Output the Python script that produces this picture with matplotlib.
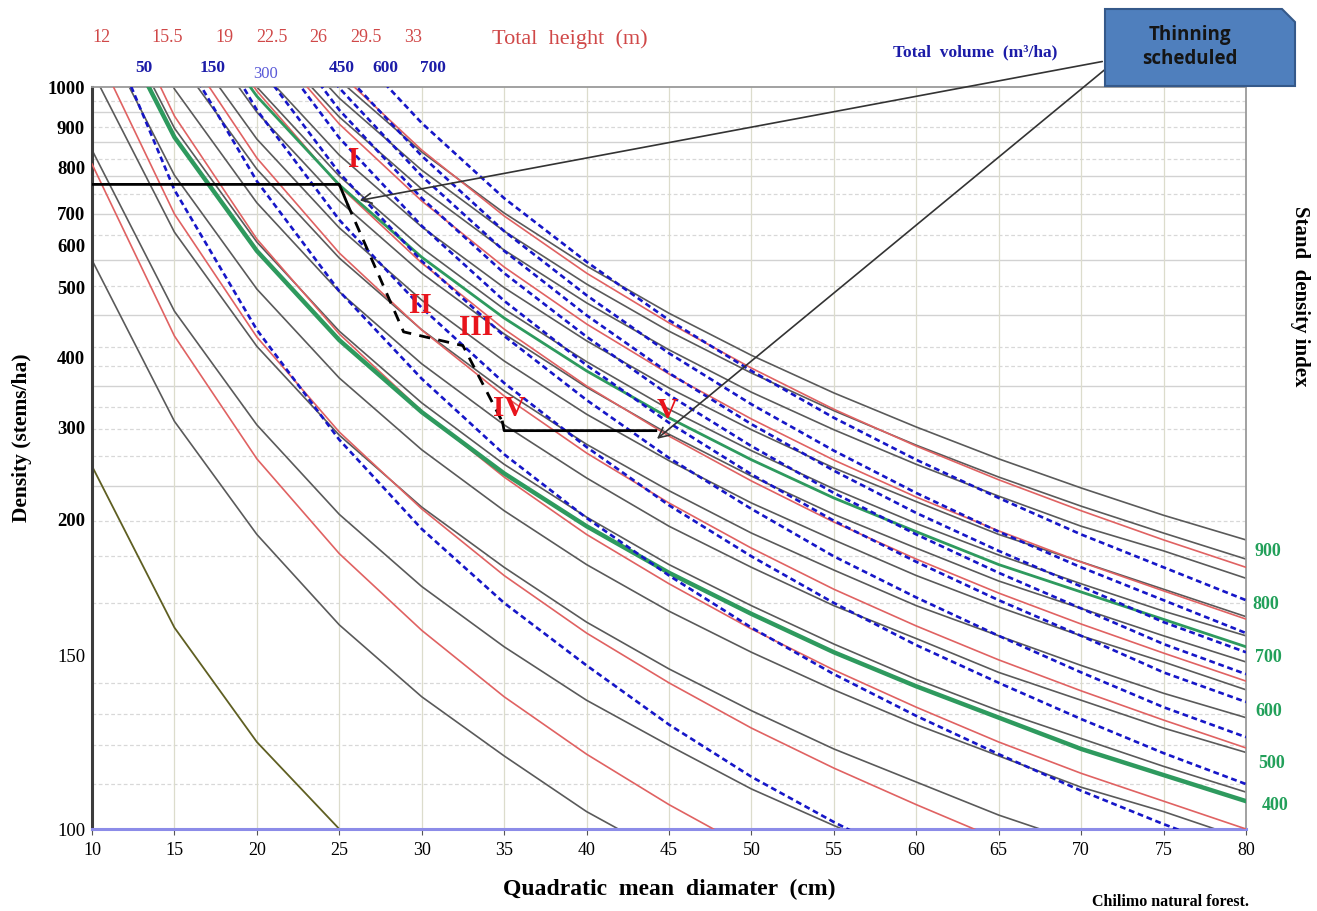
import numpy as np
import matplotlib
matplotlib.use('Agg')
import matplotlib.pyplot as plt
from matplotlib.patches import Polygon

nan = np.nan
W, H = 1317, 912

# Quadratic mean diameter (cm) where every curve is sampled
diam = [10, 15, 20, 25, 30, 35, 40, 45, 50, 55, 60, 65, 70, 75, 80]

# Stand density (stems/ha) of each line, read at the diameters above
olive = [257, 160, 125, 100, 79, nan, nan, nan, nan, nan, nan, nan, nan, nan, nan]
gray_lines = [
    [564, 308, 194, 161, 138, 121, 105, 92, nan, nan, nan, nan, nan, nan, nan],
    [841, 465, 303, 204, 175, 153, 137, 124, 111.5, 101, 91, nan, nan, nan, nan],
    [1040, 639, 414, 291, 212, 182, 162, 146, 134, 123, 113.5, 104, 96, nan, nan],
    [1182, 780, 497, 369, 275, 208, 183, 166, 151, 140, 130, 121, 112, 105, 97],
    [1300, 897, 609, 436, 334, 259, 201, 183, 168, 154, 143, 134, 126, 118, 110.6],
    [1398, 995, 720, 493, 389, 303, 244, 197, 182, 168, 156, 145, 137, 129, 122],
    [nan, 1080, 793, 569, 438, 351, 281, 230, 194.5, 181, 168, 157, 147, 139, 132],
    [nan, 1155, 869, 652, 481, 393, 318, 263, 216.5, 192, 179, 167.5, 157, 148, 140],
    [nan, 1222, 937, 724, 533, 432, 356, 292, 246, 204, 189, 177, 167, 157, 148],
    [nan, 1285, 1000, 778, 593, 468, 392, 325, 274, 232, 198, 186.5, 176, 166, 157],
    [nan, nan, 1052, 828, 655, 499, 422, 355, 297, 255, 218, 194, 184, 174, 164],
    [nan, nan, 1147, 925, 750, 588, 477, 409, 349, 297, 259, 224, 197, 188, 178],
    [nan, nan, 1195, 972, 791, 642, 507, 436, 376, 323, 280, 245, 213, 194.5, 185],
    [nan, nan, 1240, 1017, 836, 697, 550, 462, 401, 348, 300, 265, 233, 203, 192],
]
sdi_green = [
    [1277, 874, 586, 423, 321, 249, 197, 180, 165, 151, 141, 132, 123, 115.5, 108],
    [nan, 1262, 977, 759, 571, 455, 379, 313, 264, 222, 195, 183, 173, 163, 153],
]
height_lines = [
    [805, 429, 265, 187, 159, 138, 121.5, 107, 94, nan, nan, nan, nan, nan, nan],
    [1112, 694, 427.5, 294.5, 210, 179, 158, 142, 129, 117.5, 107, 97, nan, nan, nan],
    [1357, 927.5, 618, 432, 322.6, 245, 194, 176, 159.5, 145.7, 135, 125, 116, 108, 100],
    [nan, 1130, 820.5, 581, 437.7, 343.7, 271.4, 216.5, 189, 174, 160.6, 148.6, 139.7, 131.3, 123.3],
    [nan, 1297.5, 990, 756.5, 557, 439, 357.8, 290, 240.7, 198.5, 185, 172.6, 161.3, 150.7, 142.5],
    [nan, nan, 1145, 907.5, 724, 547.6, 446.4, 374.7, 311.3, 263.7, 223, 195.3, 183.9, 173.4, 163.1],
    [nan, nan, 1272, 1035, 841, 688, 533, 448, 383, 325, 279, 242, 208, 192, 182],
]
volume_lines = [
    [1235, 748, 438, 286, 196, 169, 147, 130, 115, 102, 90, nan, nan, nan, nan],
    [nan, 1115, 767, 494, 368, 270, 200, 179, 160, 144.5, 132.5, 121.5, 111, 101.4, 92.5],
    [nan, 1292, 942.5, 676, 470, 362, 278, 214, 186, 169, 153.6, 142, 131.6, 121.8, 112.9],
    [nan, nan, 1060, 785, 562, 429, 338, 266, 210, 186, 171, 157, 145, 135, 126.4],
    [nan, nan, 1147.5, 872, 658, 480, 387, 306, 248, 199, 184, 170, 157, 145, 136.5],
    [nan, nan, 1217.5, 942.5, 730, 533, 428, 345, 279, 227.5, 194, 180, 167, 154, 144.5],
    [nan, nan, 1272, 997.5, 778, 586, 459, 376, 304, 252, 205.5, 188, 175, 162, 151],
    [nan, nan, 1322, 1047, 826, 642, 488, 404, 332, 274, 227.5, 195, 182, 170, 158],
    [nan, nan, nan, 1130, 910, 730, 560, 452, 379, 313, 264, 222, 194, 182, 170],
]

# thinning schedule path
thin_d = [10, 25, 25.5, 28.9, 32.5, 34.9, 35, 44.2]
thin_n = [760, 760, 717, 435, 415, 307, 296, 296]

height_labels = ['12', '15.5', '19', '22.5', '26', '29.5', '33']
volume_labels = ['50', '150', '300', '450', '600', '700']
sdi_labels = ['900', '800', '700', '600', '500', '400']
stage_labels = ['I', 'II', 'III', 'IV', 'V']
y_ticks = [100, 150, 200, 300, 400, 500, 600, 700, 800, 900, 1000]

# the density axis of the original is not evenly logarithmic:
# keep its label spacing with a piecewise scale
scale_vals = [0, 100, 150, 200, 300, 400, 500, 600, 700, 800, 900, 1000, 3000]
scale_pix = np.array([1178, 830, 656, 519, 428, 357, 288, 246, 213, 167, 128, 88, -712])
scale_pos = (830 - scale_pix) / 742.0


def fwd(v):
    return np.interp(v, scale_vals, scale_pos)


def inv(t):
    return np.interp(t, scale_pos, scale_vals)


plt.rcParams['font.family'] = ['Liberation Serif', 'DejaVu Serif']

fig = plt.figure(figsize=(W / 100, H / 100), dpi=100)
ax = fig.add_axes([92 / W, 1 - 830 / H, (1246 - 92) / W, (830 - 88) / H])
ax.set_yscale('function', functions=(fwd, inv))
ax.set_xlim(10, 80)
ax.set_ylim(100, 1000)

# background grid
for g in [937, 862, 778, 694, 564, 459, 358, 235]:
    ax.axhline(g, color='#d2d2d2', lw=1.0, zorder=0)
for g in [965, 900, 818, 739, 630, 502, 413, 386, 328, 298, 268, 199, 186, 169, 142, 133, 124, 113]:
    ax.axhline(g, color='#d8d8d8', lw=0.9, ls=(0, (3, 2)), zorder=0)
ax.set_xticks(range(10, 81, 5))
ax.grid(axis='x', color='#dcdccc', lw=0.9, zorder=0)

ax.plot(diam, olive, color='#5f5f22', lw=1.3, zorder=2)
for n in gray_lines:
    ax.plot(diam, n, color='#5a5a5a', lw=1.2, zorder=2)
for n in height_lines:
    ax.plot(diam, n, color='#e06262', lw=1.2, zorder=3)
ax.plot(diam, sdi_green[0], color='#2e9a5e', lw=3.2, zorder=3)
ax.plot(diam, sdi_green[1], color='#2e9a5e', lw=2.0, zorder=3)
for n in volume_lines:
    ax.plot(diam, n, color='#1616c8', lw=1.9, dashes=(2.2, 1.4), zorder=4)

ax.plot(thin_d[:3], thin_n[:3], color='black', lw=2.0, zorder=5)
ax.plot(thin_d[2:6], thin_n[2:6], color='black', lw=2.0, dashes=(4, 3), zorder=5)
ax.plot(thin_d[5:], thin_n[5:], color='black', lw=2.0, zorder=5)

stage_pos = [(25.9, 818), (29.9, 475), (33.3, 443), (35.3, 328), (44.9, 325)]
for lab, (x, y) in zip(stage_labels, stage_pos):
    ax.text(x, y, lab, color='#e8141c', fontsize=21, fontweight='bold',
            ha='center', va='center', zorder=6)

# axis styling
ax.set_yticks(y_ticks)
ax.set_yticklabels([str(v) for v in y_ticks])
for lab, v in zip(ax.get_yticklabels(), y_ticks):
    lab.set_fontweight('normal' if v in (100, 150) else 'bold')
    lab.set_fontsize(13.5)
ax.tick_params(axis='y', length=0, pad=5)
ax.tick_params(axis='x', length=4, labelsize=13, pad=5, color='#555555')
ax.yaxis.set_minor_locator(matplotlib.ticker.NullLocator())
ax.spines['left'].set_color('#3c3c3c')
ax.spines['left'].set_linewidth(2.2)
ax.spines['bottom'].set_color('#8c8ce8')
ax.spines['bottom'].set_linewidth(2.2)
for s in ('top', 'right'):
    ax.spines[s].set_color('#9a9a9a')
    ax.spines[s].set_linewidth(1.3)

ax.set_xlabel('Quadratic  mean  diamater  (cm)', fontsize=17, fontweight='bold', labelpad=14)


def fp(x, y):
    return x / W, 1 - y / H


fig.text(*fp(22, 438), 'Density (stems/ha)', fontsize=15.5, fontweight='bold',
         rotation=90, ha='center', va='center')

# top labels
for lab, x in zip(height_labels, [101, 167, 224, 272, 318, 366, 413]):
    fig.text(*fp(x, 37), lab, color='#d04848', fontsize=13, ha='center', va='center')
fig.text(*fp(570, 39), 'Total  height  (m)', color='#d04848', fontsize=16, ha='center', va='center')
for lab, x in zip(volume_labels, [144, 213, 266, 342, 385, 433]):
    if lab == '300':
        fig.text(*fp(x, 74), lab, color='#5a5ad8', fontsize=12, ha='center', va='center')
    else:
        fig.text(*fp(x, 68), lab, color='#1c1ca8', fontsize=12.5, fontweight='bold',
                 ha='center', va='center')
fig.text(*fp(975, 52), 'Total  volume  (m³/ha)', color='#1c1ca8', fontsize=12.5,
         fontweight='bold', ha='center', va='center')

for lab, (x, y) in zip(sdi_labels, [(1268, 552), (1266, 605), (1268, 658), (1269, 712),
                                    (1272, 764), (1275, 806)]):
    fig.text(*fp(x, y), lab, color='#22a05a', fontsize=13, fontweight='bold',
             ha='center', va='center')
fig.text(*fp(1300, 296), 'Stand  density index', fontsize=15, fontweight='bold',
         rotation=-90, ha='center', va='center')
fig.text(*fp(1170, 902), 'Chilimo natural forest.', fontsize=11.5, fontweight='bold',
         ha='center', va='center')

# callout box
box = [fp(1105, 10), fp(1282, 10), fp(1295, 23), fp(1295, 87), fp(1105, 87)]
fig.patches.append(Polygon(box, closed=True, transform=fig.transFigure,
                           facecolor='#4f7fbd', edgecolor='#35598a', lw=1.5, zorder=5))
fig.text(*fp(1190, 47), 'Thinning\nscheduled', fontsize=13.5, fontweight='bold',
         family='Open Sans', color='#151515', ha='center', va='center',
         linespacing=1.3, zorder=6)

for tip, start in [((26.07, 724), fp(1105, 62)), ((44.14, 285), fp(1108, 68))]:
    ax.annotate('', xy=tip, xycoords='data', xytext=start, textcoords='figure fraction',
                arrowprops=dict(arrowstyle='->', color='#333333', lw=1.2,
                                mutation_scale=18), zorder=6, annotation_clip=False)

fig.savefig('out.png', dpi=100)
